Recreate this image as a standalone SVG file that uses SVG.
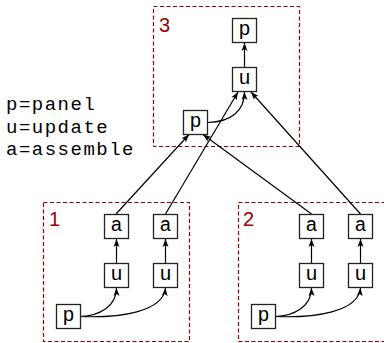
<svg xmlns="http://www.w3.org/2000/svg" width="384" height="343" viewBox="0 0 384 343">
<style>
.cl{fill:none;stroke:#990000;stroke-width:1.2;stroke-dasharray:4 2.5}
.cln{font-family:"Liberation Sans",sans-serif;font-size:20px;fill:#990000}
.bx{fill:#fff;stroke:#222;stroke-width:1.3}
.t{font-family:"Liberation Mono",monospace;font-size:20px;fill:#000;text-anchor:middle}
.lg{font-family:"Liberation Mono",monospace;font-size:19px;letter-spacing:1.5px;fill:#000}
.e{fill:none;stroke:#000;stroke-width:1.2;marker-end:url(#ah)}
</style>
<defs>
<marker id="ah" markerUnits="userSpaceOnUse" markerWidth="10" markerHeight="8" refX="8" refY="3" orient="auto" viewBox="0 0 10 6">
<path d="M0,0 L8,3 L0,6 L2,3 z" fill="#000"/>
</marker>
</defs>
<g id="legend">
<text class="lg" x="6" y="110">p=panel</text>
<text class="lg" x="6" y="132.5">u=update</text>
<text class="lg" x="6" y="155">a=assemble</text>
</g>
<g id="cluster3"><rect class="cl" x="153.5" y="6.5" width="146" height="140"/><text class="cln" x="159" y="32">3</text></g>
<g id="cluster1"><rect class="cl" x="43.5" y="202.5" width="146" height="139"/><text class="cln" x="49" y="226">1</text></g>
<g id="cluster2"><rect class="cl" x="238.5" y="202.5" width="147" height="139"/><text class="cln" x="243" y="226">2</text></g>
<g id="edges">
<path class="e" d="M244.5,67 L244.5,43"/>
<path class="e" d="M208,122.5 C232,122 244.5,110 244.5,92"/>
<path class="e" d="M116.5,263 L116.5,239"/>
<path class="e" d="M165.5,263 L165.5,239"/>
<path class="e" d="M80,316.5 C100,316 116.5,306 116.5,288"/>
<path class="e" d="M80,316.5 C120,318 163,312 165.5,288"/>
<path class="e" d="M311.5,263 L311.5,239"/>
<path class="e" d="M360.5,263 L360.5,239"/>
<path class="e" d="M275,316.5 C295,316 311.5,306 311.5,288"/>
<path class="e" d="M275,316.5 C315,318 358,312 360.5,288"/>
<path class="e" d="M116,214 L189,134.5"/>
<path class="e" d="M165.5,214 L238,92"/>
<path class="e" d="M311.5,214 L203,134.5"/>
<path class="e" d="M360.5,214 L251,92"/>
</g>
<g id="c3_p_out"><rect class="bx" x="232.5" y="18.5" width="24" height="24"/><text class="t" x="244.5" y="35">p</text></g>
<g id="c3_u"><rect class="bx" x="232.5" y="67.5" width="24" height="24"/><text class="t" x="244.5" y="84">u</text></g>
<g id="c3_p_in"><rect class="bx" x="183.5" y="110.5" width="24" height="24"/><text class="t" x="195.5" y="127">p</text></g>
<g id="c1_a1"><rect class="bx" x="104.5" y="214.5" width="24" height="24"/><text class="t" x="116.5" y="231">a</text></g>
<g id="c1_a2"><rect class="bx" x="153.5" y="214.5" width="24" height="24"/><text class="t" x="165.5" y="231">a</text></g>
<g id="c1_u1"><rect class="bx" x="104.5" y="263.5" width="24" height="24"/><text class="t" x="116.5" y="280">u</text></g>
<g id="c1_u2"><rect class="bx" x="153.5" y="263.5" width="24" height="24"/><text class="t" x="165.5" y="280">u</text></g>
<g id="c1_p"><rect class="bx" x="56.5" y="304.5" width="24" height="24"/><text class="t" x="68.5" y="321">p</text></g>
<g id="c2_a1"><rect class="bx" x="299.5" y="214.5" width="24" height="24"/><text class="t" x="311.5" y="231">a</text></g>
<g id="c2_a2"><rect class="bx" x="348.5" y="214.5" width="24" height="24"/><text class="t" x="360.5" y="231">a</text></g>
<g id="c2_u1"><rect class="bx" x="299.5" y="263.5" width="24" height="24"/><text class="t" x="311.5" y="280">u</text></g>
<g id="c2_u2"><rect class="bx" x="348.5" y="263.5" width="24" height="24"/><text class="t" x="360.5" y="280">u</text></g>
<g id="c2_p"><rect class="bx" x="251.5" y="304.5" width="24" height="24"/><text class="t" x="263.5" y="321">p</text></g>
</svg>
